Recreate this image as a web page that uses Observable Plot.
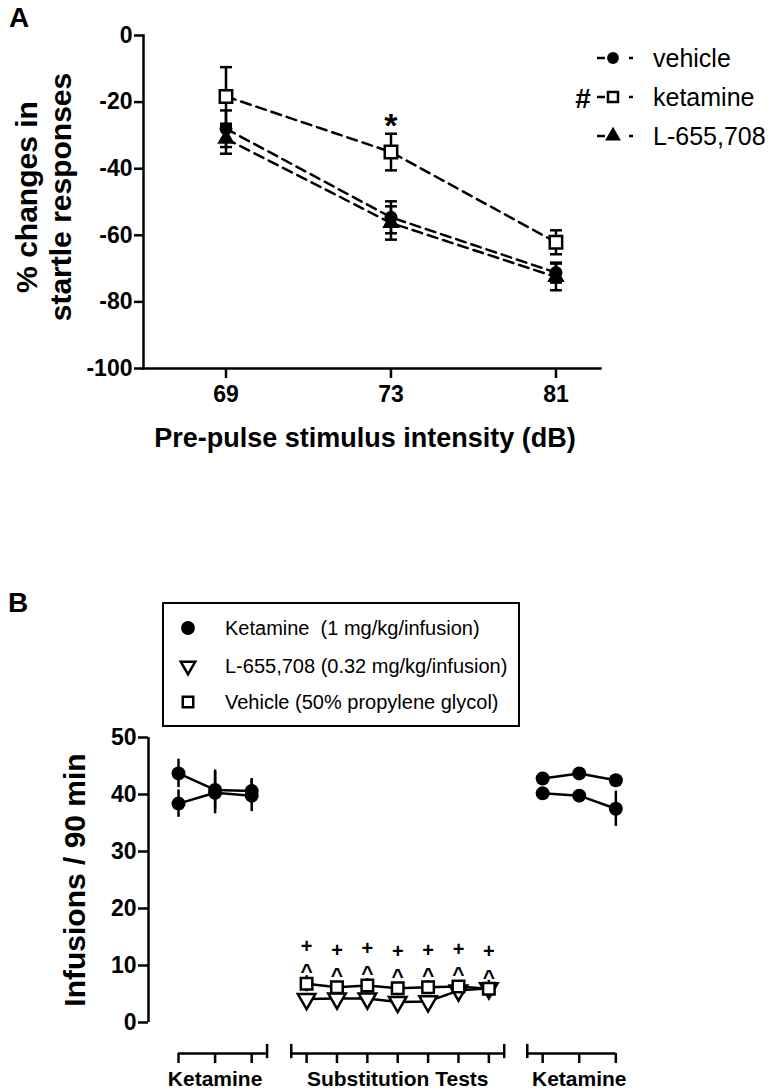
<!DOCTYPE html>
<html><head><meta charset="utf-8">
<script src="https://cdn.jsdelivr.net/npm/d3@7"></script>
<script src="https://cdn.jsdelivr.net/npm/@observablehq/plot@0.6"></script>
<style>
body{margin:0;background:#fff;}
#root{position:relative;width:776px;height:1091px;overflow:hidden;font-family:"Liberation Sans",Arial,sans-serif;color:#000;background:#fff;}
.abs{position:absolute;white-space:pre;line-height:1;}
.c{transform:translate(-50%,-50%);}
.b{font-weight:bold;}
.rbox{position:absolute;display:flex;align-items:center;justify-content:center;text-align:center;white-space:pre;transform:rotate(-90deg);font-weight:bold;}
.plot{position:absolute;left:0;}
</style></head><body><div id="root"></div>
<script>
// ---------- Panel A data ----------
const intensities = ["69", "73", "81"];
const ppiGroups = ["vehicle", "ketamine", "L-655,708"];
const ppiVehicle = [-28.0, -54.6, -71.2];
const ppiVehicleSem = [5.5, 4.8, 3.0];
const ppiKetamine = [-18.3, -35.0, -62.1];
const ppiKetamineSem = [8.8, 5.5, 3.6];
const ppiL655 = [-31.0, -56.3, -72.5];
const ppiL655Sem = [4.5, 5.0, 4.0];
const ppiYTicks = [0, -20, -40, -60, -80, -100];

// ---------- Panel B data ----------
const blockNames = ["Ketamine", "Substitution Tests", "Ketamine"];
const ketPre1 = [43.7, 40.8, 40.6];
const ketPre1Sem = [2.5, 3.5, 2.2];
const ketPre2 = [38.4, 40.3, 39.8];
const ketPre2Sem = [2.4, 3.7, 2.8];
const subVehicle = [6.8, 6.2, 6.5, 6.0, 6.2, 6.3, 5.9];
const subVehicleSem = [1.4, 1.0, 1.2, 1.0, 1.1, 1.0, 1.0];
const subL655 = [4.1, 4.2, 4.2, 3.6, 3.7, 5.6, 6.0];
const subL655Sem = [1.0, 1.0, 1.0, 1.0, 1.0, 1.4, 1.4];
const ketPost1 = [42.8, 43.7, 42.5];
const ketPost1Sem = [1.0, 1.0, 1.0];
const ketPost2 = [40.2, 39.8, 37.5];
const ketPost2Sem = [1.0, 1.0, 3.1];
const infYTicks = [0, 10, 20, 30, 40, 50];
const legendB = ["Ketamine  (1 mg/kg/infusion)", "L-655,708 (0.32 mg/kg/infusion)", "Vehicle (50% propylene glycol)"];
const subMarks = ["^", "+"];

// ---------- layout (styling, not data) ----------
const FONT = "Liberation Sans, Arial, sans-serif";
const root = document.getElementById("root");
function addText(txt, x, y, cls, size, extra = "") {
  const d = document.createElement("div");
  d.className = "abs " + cls;
  d.style.left = x + "px"; d.style.top = y + "px"; d.style.fontSize = size + "px";
  if (extra) d.style.cssText += extra;
  d.textContent = txt;
  root.appendChild(d);
  return d;
}
function addRotText(txt, cx, cy, size, lineH) {
  const w = 340, h = 90;
  const d = document.createElement("div");
  d.className = "rbox";
  d.style.cssText += `left:${cx - w / 2}px;top:${cy - h / 2}px;width:${w}px;height:${h}px;font-size:${size}px;line-height:${lineH}px;`;
  d.textContent = txt;
  root.appendChild(d);
}
const hLine = {draw(ctx, size) { const w = Math.sqrt(size / Math.PI); ctx.moveTo(-w, 0); ctx.lineTo(w, 0); }};
const fmt = d => String(d);

// ---------- Panel A ----------
const rowsA = [];
[[ppiVehicle, ppiVehicleSem], [ppiKetamine, ppiKetamineSem], [ppiL655, ppiL655Sem]].forEach(([vals, sems], gi) => {
  vals.forEach((v, i) => rowsA.push({group: ppiGroups[gi], i, value: v, sem: sems[i]}));
});
const byG = g => rowsA.filter(d => d.group === g);

const plotA = Plot.plot({
  width: 776, height: 440,
  marginLeft: 143, marginRight: 176, marginTop: 35, marginBottom: 72,
  style: {fontFamily: FONT, fontSize: "23px", fontWeight: "bold", color: "#000", background: "transparent", overflow: "visible"},
  x: {type: "linear", domain: [-0.5, 2.27]},
  y: {domain: [-100, 0]},
  marks: [
    Plot.axisY({ticks: ppiYTicks, tickFormat: fmt, tickSize: 9, tickPadding: 2, strokeWidth: 2.5, label: null, fontSize: 23, fontWeight: "bold"}),
    Plot.axisX({ticks: [0, 1, 2], tickFormat: i => intensities[i], tickSize: 10, tickPadding: 7, strokeWidth: 2.5, label: null, fontSize: 23, fontWeight: "bold"}),
    Plot.frame({anchor: "left", strokeWidth: 2.5}),
    Plot.frame({anchor: "bottom", strokeWidth: 2.5}),
    Plot.line(rowsA, {x: "i", y: "value", z: "group", stroke: "#000", strokeWidth: 2.5, strokeDasharray: "10,6"}),
    Plot.ruleX(rowsA, {x: "i", y1: d => d.value - d.sem, y2: d => d.value + d.sem, stroke: "#000", strokeWidth: 2.5}),
    Plot.dot(rowsA, {x: "i", y: d => d.value + d.sem, symbol: hLine, r: 6, stroke: "#000", strokeWidth: 2.5}),
    Plot.dot(rowsA, {x: "i", y: d => d.value - d.sem, symbol: hLine, r: 6, stroke: "#000", strokeWidth: 2.5}),
    Plot.dot(byG("vehicle"), {x: "i", y: "value", symbol: "circle", r: 6.5, fill: "#000", stroke: "none"}),
    Plot.dot(byG("L-655,708"), {x: "i", y: "value", symbol: "triangle", r: 6.5, fill: "#000", stroke: "none"}),
    Plot.dot(byG("ketamine"), {x: "i", y: "value", symbol: "square", r: 7, fill: "#fff", stroke: "#000", strokeWidth: 2.5}),
    Plot.text(byG("ketamine").filter(d => d.i === 1), {x: "i", y: "value", text: () => "*", dy: -26, fontSize: 34, fontWeight: "bold", lineAnchor: "middle"})
  ]
});
plotA.classList.add("plot");
plotA.style.top = "0px";
root.appendChild(plotA);

addText("A", 19, 18, "c b", 28);
addRotText("% changes in\nstartle responses", 44, 197, 30, 34);
addText("Pre-pulse stimulus intensity (dB)", 365, 438, "c b", 27);

// legend A
const legA = [{name: "vehicle", sym: "circle"}, {name: "ketamine", sym: "square"}, {name: "L-655,708", sym: "triangle"}];
const legAy = [58, 97, 136];
legA.forEach((e, k) => {
  const y = legAy[k];
  const ns = "http://www.w3.org/2000/svg";
  const svg = document.createElementNS(ns, "svg");
  svg.setAttribute("width", 44); svg.setAttribute("height", 24);
  svg.style.position = "absolute"; svg.style.left = "592px"; svg.style.top = (y - 12) + "px"; svg.style.overflow = "visible";
  const ln = document.createElementNS(ns, "line");
  ln.setAttribute("x1", 5); ln.setAttribute("x2", 42); ln.setAttribute("y1", 12); ln.setAttribute("y2", 12);
  ln.setAttribute("stroke", "#000"); ln.setAttribute("stroke-width", 2.5); ln.setAttribute("stroke-dasharray", "8 24 4");
  svg.appendChild(ln);
  const p = document.createElementNS(ns, "path");
  const size = e.sym === "square" ? 100 : 110;
  const sym = e.sym === "circle" ? d3.symbolCircle : e.sym === "square" ? d3.symbolSquare : d3.symbolTriangle;
  p.setAttribute("d", d3.symbol(sym, size)());
  p.setAttribute("transform", "translate(21,12)");
  if (e.sym === "square") { p.setAttribute("fill", "#fff"); p.setAttribute("stroke", "#000"); p.setAttribute("stroke-width", 2.5); }
  else p.setAttribute("fill", "#000");
  svg.appendChild(p);
  root.appendChild(svg);
  addText(e.name, 653, y, "", 25, "transform:translateY(-50%);");
});
addText("#", 583, 99, "c b", 28);

// ---------- Panel B ----------
const blockLayout = [{start: 0, step: 1}, {start: 3.5, step: 0.83}, {start: 9.95, step: 1}];
const capGap = 0.42;
const posB = (b, i) => blockLayout[b].start + i * blockLayout[b].step;
const seriesB = [
  {id: "ketPre1", block: 0, vals: ketPre1, sems: ketPre1Sem, kind: "ket"},
  {id: "ketPre2", block: 0, vals: ketPre2, sems: ketPre2Sem, kind: "ket"},
  {id: "veh", block: 1, vals: subVehicle, sems: subVehicleSem, kind: "veh"},
  {id: "l655", block: 1, vals: subL655, sems: subL655Sem, kind: "l655"},
  {id: "ketPost1", block: 2, vals: ketPost1, sems: ketPost1Sem, kind: "ket"},
  {id: "ketPost2", block: 2, vals: ketPost2, sems: ketPost2Sem, kind: "ket"}
];
const rowsB = [];
seriesB.forEach(s => s.vals.forEach((v, i) => rowsB.push({id: s.id, kind: s.kind, block: s.block, i, x: posB(s.block, i), value: v, sem: s.sems[i]})));
const kindB = k => rowsB.filter(d => d.kind === k);

const blockInfo = blockNames.map((name, b) => {
  const n = b === 1 ? subVehicle.length : ketPre1.length;
  const first = posB(b, 0), last = posB(b, n - 1);
  return {name, b, first, last, center: (first + last) / 2};
});
const tickPos = [];
blockInfo.forEach(bi => { const n = bi.b === 1 ? subVehicle.length : ketPre1.length; for (let i = 0; i < n; i++) tickPos.push(posB(bi.b, i)); });
const segs = [
  {x1: blockInfo[0].first, x2: blockInfo[0].last + capGap},
  {x1: blockInfo[1].first - capGap, x2: blockInfo[1].last + capGap},
  {x1: blockInfo[2].first - capGap, x2: blockInfo[2].last}
];
const caps = [segs[0].x2, segs[1].x1, segs[1].x2, segs[2].x1];
const yMinB = -5.44;

const plotB = Plot.plot({
  width: 776, height: 391,
  marginLeft: 148, marginRight: 0, marginTop: 37, marginBottom: 38,
  style: {fontFamily: FONT, fontSize: "22px", fontWeight: "bold", color: "#000", background: "transparent", overflow: "visible"},
  x: {type: "linear", domain: [-0.82, 16.34]},
  y: {domain: [yMinB, 50]},
  marks: [
    Plot.axisY({ticks: infYTicks, tickFormat: fmt, tickSize: 10, tickPadding: 2, strokeWidth: 2.5, label: null, fontSize: 23, fontWeight: "bold"}),
    Plot.ruleX([0], {x: -0.82, y1: 0, y2: 50, strokeWidth: 2.5}),
    Plot.axisX({ticks: tickPos, tickSize: 10, tickFormat: () => "", strokeWidth: 2.5, label: null}),
    Plot.ruleY(segs, {y: yMinB, x1: "x1", x2: "x2", strokeWidth: 2.5}),
    Plot.ruleX(caps, {x: d => d, y1: yMinB - 0.9, y2: yMinB + 1.6, strokeWidth: 2.5}),
    Plot.text(blockInfo, {x: "center", y: yMinB, text: "name", dy: 26, fontSize: 21, fontWeight: "bold", lineAnchor: "middle"}),
    Plot.line(rowsB, {x: "x", y: "value", z: "id", stroke: "#000", strokeWidth: 2.5}),
    Plot.ruleX(rowsB, {x: "x", y1: d => d.value - d.sem, y2: d => d.value + d.sem, stroke: "#000", strokeWidth: 2.5}),
    Plot.dot(kindB("ket"), {x: "x", y: "value", symbol: "circle", r: 7, fill: "#000", stroke: "none"}),
    Plot.dot(kindB("l655"), {x: "x", y: "value", symbol: "triangle", rotate: 180, r: 6.5, fill: "#fff", stroke: "#000", strokeWidth: 2.5}),
    Plot.dot(kindB("veh"), {x: "x", y: "value", symbol: "square", r: 6.5, fill: "#fff", stroke: "#000", strokeWidth: 2.5}),
    Plot.text(kindB("veh"), {x: "x", y: "value", text: () => subMarks[0], dy: -12, fontSize: 21, fontWeight: "bold", lineAnchor: "middle"}),
    Plot.text(kindB("veh"), {x: "x", y: "value", text: () => subMarks[1], dy: -37, fontSize: 20, fontWeight: "bold", lineAnchor: "middle"})
  ]
});
plotB.classList.add("plot");
plotB.style.top = "700px";
root.appendChild(plotB);

addText("B", 18, 603, "c b", 28);
addRotText("Infusions / 90 min", 75, 880, 30, 34);

// legend B
const box = document.createElement("div");
box.style.cssText = "position:absolute;left:162px;top:602px;width:358px;height:125px;box-sizing:border-box;border:2.5px solid #000;";
root.appendChild(box);
const legBy = [628, 666, 702];
const legBsym = [{s: d3.symbolCircle, fill: "#000", rot: 0, size: 150}, {s: d3.symbolTriangle, fill: "#fff", rot: 180, size: 90}, {s: d3.symbolSquare, fill: "#fff", rot: 0, size: 110}];
legendB.forEach((t, k) => {
  const ns = "http://www.w3.org/2000/svg";
  const svg = document.createElementNS(ns, "svg");
  svg.setAttribute("width", 24); svg.setAttribute("height", 24);
  svg.style.position = "absolute"; svg.style.left = "176px"; svg.style.top = (legBy[k] - 12) + "px"; svg.style.overflow = "visible";
  const p = document.createElementNS(ns, "path");
  p.setAttribute("d", d3.symbol(legBsym[k].s, legBsym[k].size)());
  p.setAttribute("transform", `translate(12,12) rotate(${legBsym[k].rot})`);
  p.setAttribute("fill", legBsym[k].fill);
  if (legBsym[k].fill === "#fff") { p.setAttribute("stroke", "#000"); p.setAttribute("stroke-width", 2.5); }
  svg.appendChild(p);
  root.appendChild(svg);
  addText(t, 225, legBy[k], "", 20, "transform:translateY(-50%);");
});
</script></body></html>
